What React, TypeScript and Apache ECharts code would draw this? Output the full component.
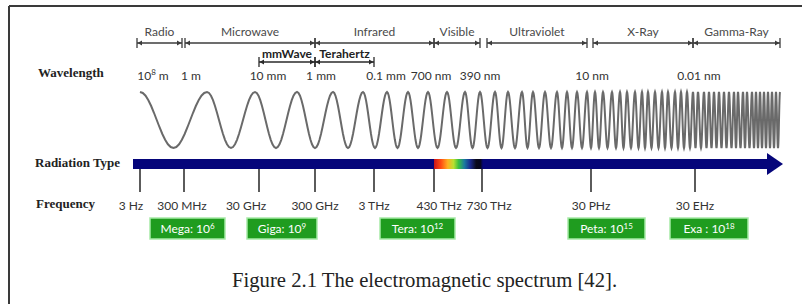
import { useEffect, useRef } from "react";
import * as echarts from "echarts";

// ---- data (positions along the spectrum axis, arbitrary units 0..650) ----
const bandNames = ["Radio", "Microwave", "Infrared", "Visible", "Ultraviolet", "X-Ray", "Gamma-Ray"];
const bandStart = [4, 52, 182, 301, 354, 460, 560];
const bandEnd = [49, 182, 301, 347, 454, 560, 647];

const subBandNames = ["mmWave", "Terahertz"];
const subBandStart = [126, 182];
const subBandEnd = [182, 241];

// "{s|..}" marks a superscript
const wavelengthLabels = ["10{s|8} m", "1 m", "10 mm", "1 mm", "0.1 mm", "700 nm", "390 nm", "10 nm", "0.01 nm"];
const wavelengthAt = [20, 58, 135, 188, 253, 298, 347, 459, 566];

const frequencyLabels = ["3 Hz", "300 MHz", "30 GHz", "300 GHz", "3 THz", "430 THz", "730 THz", "30 PHz", "30 EHz"];
const frequencyAt = [7, 51, 126, 182, 241, 301, 349, 458, 562];

const prefixLabels = ["Mega: 10{s|6}", "Giga: 10{s|9}", "Tera: 10{s|12}", "Peta: 10{s|15}", "Exa : 10{s|18}"];
const prefixStart = [17, 114, 247, 435, 537];
const prefixEnd = [92, 184, 322, 512, 615];

// crest positions of the illustrated wave
const wavePeaks = [
  7, 74, 122, 164, 200, 230, 254, 275, 295, 314, 332, 347, 362, 375, 389, 400, 412, 424, 434, 444,
  454, 462, 470, 479, 487, 494, 502, 509, 515, 522, 529, 535, 542, 548, 554, 560, 565, 571, 576, 581,
  586, 591, 596, 601, 605, 610, 614, 619, 623, 627, 631, 635, 639, 643, 647,
];

const visibleRange = [301, 350];
const arrowBodyEnd = 634;
const axisMax = 650;

// ---- layout rows (pixels from top) ----
const ROW = {
  bandLabel: 31,
  bandLine: 43,
  subLabel: 53,
  subLine: 62,
  wavelength: 75,
  waveMid: 120,
  waveAmp: 28,
  barTop: 159,
  barBottom: 169,
  arrowTop: 153,
  arrowBottom: 175,
  tickBottom: 192,
  freqLabel: 205,
  boxTop: 218,
  boxBottom: 239,
};
// small horizontal nudges of frequency labels relative to their ticks (px)
const freqLabelNudge = [-9, -2, -13, 0, 0, 5, 7, 0, 0];

const SANS = "Lato, 'Liberation Sans', sans-serif";
const SERIF = "'Liberation Serif', 'Times New Roman', serif";

function supRich(size: number, color: string) {
  return {
    s: { fontSize: Math.round(size * 0.68), fontFamily: SANS, fill: color, verticalAlign: "top", lineHeight: size + 2 },
  };
}

function bracket(api: any, a: number, b: number, y: number, color: string) {
  const s = api.coord([a, y]);
  const e = api.coord([b, y]);
  const h = 5;
  const aw = 5;
  const ah = 2.5;
  return [
    { type: "line", shape: { x1: s[0], y1: y, x2: e[0], y2: y }, style: { stroke: color, lineWidth: 1.3 } },
    { type: "line", shape: { x1: s[0], y1: y - h, x2: s[0], y2: y + h }, style: { stroke: color, lineWidth: 1.3 } },
    { type: "line", shape: { x1: e[0], y1: y - h, x2: e[0], y2: y + h }, style: { stroke: color, lineWidth: 1.3 } },
    { type: "polygon", shape: { points: [[s[0] + 0.5, y], [s[0] + aw, y - ah], [s[0] + aw, y + ah]] }, style: { fill: color } },
    { type: "polygon", shape: { points: [[e[0] - 0.5, y], [e[0] - aw, y - ah], [e[0] - aw, y + ah]] }, style: { fill: color } },
  ];
}

export default function App() {
  const ref = useRef<HTMLDivElement>(null);

  useEffect(() => {
    if (!ref.current) return;
    const chart = echarts.init(ref.current, null, { renderer: "svg" });

    const option: any = {
      animation: false,
      backgroundColor: "#ffffff",
      grid: { left: 133, right: 19, top: 0, bottom: 0, containLabel: false },
      xAxis: { type: "value", min: 0, max: axisMax, show: false },
      yAxis: { type: "value", min: 0, max: 304, inverse: true, show: false },
      graphic: [
        { type: "line", shape: { x1: 9, y1: 6, x2: 802, y2: 6 }, style: { stroke: "#3a3a3a", lineWidth: 2 } },
        { type: "line", shape: { x1: 9, y1: 6, x2: 9, y2: 304 }, style: { stroke: "#3a3a3a", lineWidth: 2 } },
        { type: "text", left: 38, top: ROW.wavelength - 9, style: { text: "Wavelength", font: `bold 13px ${SERIF}`, fill: "#222" } },
        { type: "text", left: 35, top: (ROW.barTop + ROW.barBottom) / 2 - 8, style: { text: "Radiation Type", font: `bold 13px ${SERIF}`, fill: "#222" } },
        { type: "text", left: 36, top: ROW.freqLabel - 8, style: { text: "Frequency", font: `bold 13px ${SERIF}`, fill: "#222" } },
        { type: "text", left: 232, top: 269, style: { text: "Figure 2.1 The electromagnetic spectrum [42].", font: `20.7px ${SERIF}`, fill: "#222" } },
      ],
      series: [
        {
          type: "custom",
          name: "bands",
          data: bandNames.map((_, i) => [bandStart[i], bandEnd[i]]),
          renderItem: (params: any, api: any) => {
            const i = params.dataIndex;
            const a = api.value(0);
            const b = api.value(1);
            const mid = api.coord([(a + b) / 2, ROW.bandLabel]);
            return {
              type: "group",
              children: [
                ...bracket(api, a, b, ROW.bandLine, "#3c3c3c"),
                { type: "text", style: { text: bandNames[i], x: mid[0], y: ROW.bandLabel, align: "center", verticalAlign: "middle", font: `12px ${SANS}`, fill: "#4a4a4a" } },
              ],
            };
          },
        },
        {
          type: "custom",
          name: "subBands",
          data: subBandNames.map((_, i) => [subBandStart[i], subBandEnd[i]]),
          renderItem: (params: any, api: any) => {
            const i = params.dataIndex;
            const a = api.value(0);
            const b = api.value(1);
            const mid = api.coord([(a + b) / 2, ROW.subLabel]);
            return {
              type: "group",
              children: [
                ...bracket(api, a, b, ROW.subLine, "#2a2a2a"),
                { type: "text", style: { text: subBandNames[i], x: mid[0], y: ROW.subLabel, align: "center", verticalAlign: "middle", font: `bold 12px ${SANS}`, fill: "#222" } },
              ],
            };
          },
        },
        {
          type: "custom",
          name: "wavelength",
          data: wavelengthAt.map((v) => [v]),
          renderItem: (params: any, api: any) => {
            const p = api.coord([api.value(0), ROW.wavelength]);
            return {
              type: "text",
              style: {
                text: wavelengthLabels[params.dataIndex],
                x: p[0],
                y: ROW.wavelength,
                align: "center",
                verticalAlign: "middle",
                font: `12px ${SANS}`,
                fill: "#333",
                rich: supRich(12, "#333"),
              },
            };
          },
        },
        {
          type: "custom",
          name: "wave",
          data: [[0]],
          renderItem: (_params: any, api: any) => {
            const pts: number[][] = [];
            for (let i = 0; i < wavePeaks.length - 1; i++) {
              const a = wavePeaks[i];
              const b = wavePeaks[i + 1];
              const n = 24;
              for (let k = i === 0 ? 0 : 1; k <= n; k++) {
                const t = k / n;
                const u = a + (b - a) * t;
                const y = ROW.waveMid - ROW.waveAmp * Math.cos(2 * Math.PI * t);
                pts.push(api.coord([u, y]));
              }
            }
            return { type: "polyline", shape: { points: pts }, style: { stroke: "#6a6a6a", lineWidth: 2, fill: null } };
          },
        },
        {
          type: "custom",
          name: "radiation",
          data: [[0, arrowBodyEnd, axisMax]],
          renderItem: (_params: any, api: any) => {
            const s = api.coord([api.value(0), ROW.barTop]);
            const e = api.coord([api.value(1), ROW.barTop]);
            const tip = api.coord([api.value(2), ROW.barTop]);
            const v0 = api.coord([visibleRange[0], ROW.barTop]);
            const v1 = api.coord([visibleRange[1], ROW.barTop]);
            const midY = (ROW.barTop + ROW.barBottom) / 2;
            return {
              type: "group",
              children: [
                { type: "rect", shape: { x: s[0], y: ROW.barTop, width: e[0] - s[0] + 1, height: ROW.barBottom - ROW.barTop }, style: { fill: "#05057a" } },
                {
                  type: "polygon",
                  shape: { points: [[e[0], ROW.arrowTop], [tip[0], midY], [e[0], ROW.arrowBottom]] },
                  style: { fill: "#05057a" },
                },
                {
                  type: "rect",
                  shape: { x: v0[0], y: ROW.barTop, width: v1[0] - v0[0], height: ROW.barBottom - ROW.barTop },
                  style: {
                    fill: new echarts.graphic.LinearGradient(0, 0, 1, 0, [
                      { offset: 0, color: "#c8141a" },
                      { offset: 0.14, color: "#ff4a12" },
                      { offset: 0.28, color: "#ffb020" },
                      { offset: 0.4, color: "#b8e030" },
                      { offset: 0.5, color: "#3cc040" },
                      { offset: 0.62, color: "#1a7aa0" },
                      { offset: 0.74, color: "#1a2a90" },
                      { offset: 0.86, color: "#0a0a1a" },
                      { offset: 0.95, color: "#050520" },
                      { offset: 1, color: "#05057a" },
                    ]),
                  },
                },
              ],
            };
          },
        },
        {
          type: "custom",
          name: "frequency",
          data: frequencyAt.map((v) => [v]),
          renderItem: (params: any, api: any) => {
            const p = api.coord([api.value(0), ROW.barBottom]);
            const nudge = freqLabelNudge[params.dataIndex] || 0;
            return {
              type: "group",
              children: [
                { type: "line", shape: { x1: p[0], y1: ROW.barBottom, x2: p[0], y2: ROW.tickBottom }, style: { stroke: "#333", lineWidth: 1.6 } },
                { type: "text", style: { text: frequencyLabels[params.dataIndex], x: p[0] + nudge, y: ROW.freqLabel, align: "center", verticalAlign: "middle", font: `12px ${SANS}`, fill: "#333" } },
              ],
            };
          },
        },
        {
          type: "custom",
          name: "prefixes",
          data: prefixLabels.map((_, i) => [prefixStart[i], prefixEnd[i]]),
          renderItem: (params: any, api: any) => {
            const s = api.coord([api.value(0), ROW.boxTop]);
            const e = api.coord([api.value(1), ROW.boxTop]);
            return {
              type: "group",
              children: [
                {
                  type: "rect",
                  shape: { x: s[0], y: ROW.boxTop, width: e[0] - s[0], height: ROW.boxBottom - ROW.boxTop },
                  style: { fill: "#1f9c1f", stroke: "#a6eaa6", lineWidth: 1.5 },
                },
                {
                  type: "text",
                  style: {
                    text: prefixLabels[params.dataIndex],
                    x: (s[0] + e[0]) / 2,
                    y: (ROW.boxTop + ROW.boxBottom) / 2,
                    align: "center",
                    verticalAlign: "middle",
                    font: `12px ${SANS}`,
                    fill: "#ffffff",
                    rich: supRich(12, "#ffffff"),
                  },
                },
              ],
            };
          },
        },
      ],
    };

    chart.setOption(option);
    return () => chart.dispose();
  }, []);

  return <div ref={ref} style={{ width: 802, height: 304, position: "absolute", left: 0, top: 0 }} />;
}
